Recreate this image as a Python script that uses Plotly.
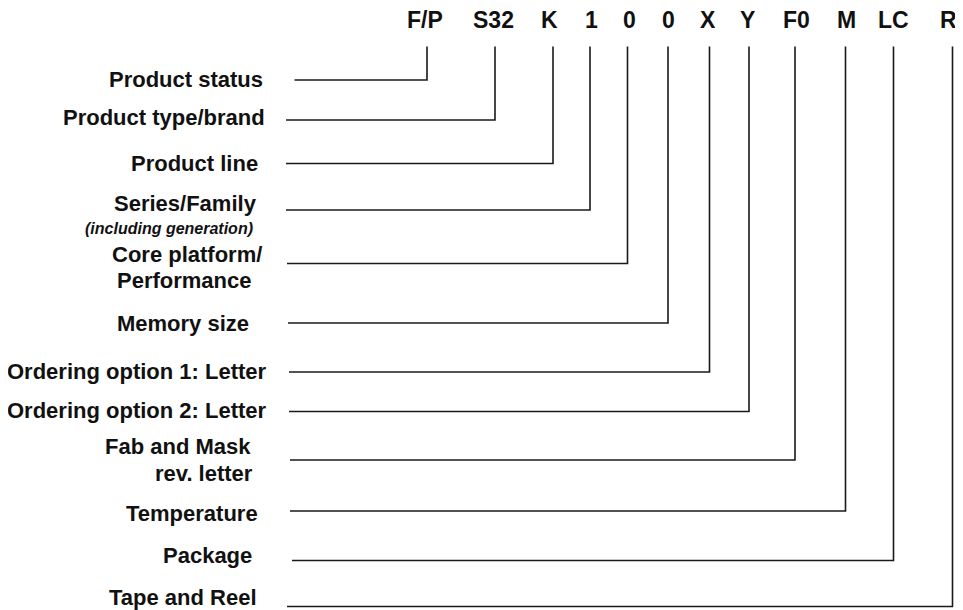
import plotly.graph_objects as go

# Part-number segments (top row) and their meanings (left column)
codes = ["F/P", "S32", "K", "1", "0", "0", "X", "Y", "F0", "M", "LC", "R"]
code_x = [427, 495, 553, 590, 627.5, 668, 709.5, 749, 795, 845.5, 893.5, 952.5]
code_label_x = [425, 493, 549, 591, 629, 668, 708, 747, 796, 846, 893, 948]

labels = [
    "Product status", "Product type/brand", "Product line", "Series/Family",
    "Core platform/", "Memory size", "Ordering option 1: Letter",
    "Ordering option 2: Letter", "Fab and Mask", "Temperature", "Package",
    "Tape and Reel",
]
label_y = [79, 117, 163, 203, 254, 323, 371, 410, 446, 513, 555, 597]
label_right = [265, 267, 259.5, 259, 263.5, 251, 268.5, 268.5, 252.5, 260, 253.5, 258.5]
second_lines = {3: ("(including generation)", 228, 255, True),
                4: ("Performance", 280, 253.5, False),
                8: ("rev. letter", 473.5, 254.5, False)}

line_y = [80, 120, 163.5, 210, 263.5, 323, 372, 411.5, 460, 511, 560.5, 606.5]
line_left = [294.5, 286, 286, 286, 287, 288, 289, 289, 290, 290, 292, 287]
line_top = 46.5

fig = go.Figure()
for i in range(len(codes)):
    fig.add_trace(go.Scatter(
        x=[line_left[i], code_x[i], code_x[i]],
        y=[line_y[i], line_y[i], line_top],
        mode="lines", line=dict(color="#1a1a1a", width=1.6),
        hoverinfo="skip", showlegend=False, cliponaxis=False,
    ))

font_main = dict(family="Liberation Sans, Arial, sans-serif", size=22, color="#111111")
font_top = dict(family="Liberation Sans, Arial, sans-serif", size=23, color="#111111")
for c, x in zip(codes, code_label_x):
    fig.add_annotation(x=x, y=20, text="<b>" + c + "</b>", showarrow=False,
                       xanchor="center", yanchor="middle", font=font_top)

for i, lab in enumerate(labels):
    fig.add_annotation(x=label_right[i], y=label_y[i], text="<b>" + lab + "</b>",
                       showarrow=False, xanchor="right", yanchor="middle", font=font_main)
    if i in second_lines:
        t, yy, xr, ital = second_lines[i]
        if ital:
            txt = "<b><i>" + t + "</i></b>"
            f = dict(family="Liberation Sans, Arial, sans-serif", size=16, color="#111111")
        else:
            txt = "<b>" + t + "</b>"
            f = font_main
        fig.add_annotation(x=xr, y=yy, text=txt, showarrow=False,
                           xanchor="right", yanchor="middle", font=f)

# The page body has an 8px margin, so the figure is 8px smaller and the
# axis ranges start at 8 so that coordinates map to window pixels.
fig.update_layout(
    width=955, height=602,
    margin=dict(l=0, r=0, t=0, b=0),
    paper_bgcolor="white", plot_bgcolor="white",
    xaxis=dict(range=[8, 963], visible=False, fixedrange=True),
    yaxis=dict(range=[610, 8], visible=False, fixedrange=True),
    showlegend=False,
)
fig.write_html("out.html", config={"displayModeBar": False})
